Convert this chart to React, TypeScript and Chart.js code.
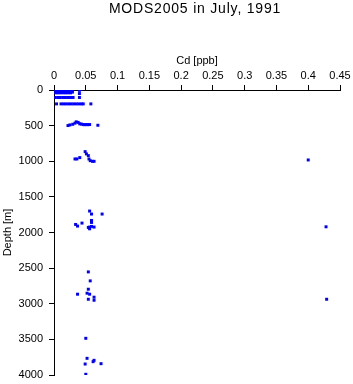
import React, { useEffect, useRef } from "react";
import { Chart, registerables } from "chart.js";

Chart.register(...registerables);

const titleText = "MODS2005 in July, 1991";
const xTitle = "Cd [ppb]";
const yTitle = "Depth [m]";

// Cd values (ppb) and matching depths (m), grouped by station cast level
const surfaceCd = [
  0.002, 0.006, 0.010, 0.014, 0.018, 0.022, 0.026, 0.029, 0.040,
  0.002, 0.006, 0.010, 0.014, 0.018, 0.022, 0.026, 0.029,
  0.002, 0.006, 0.010, 0.014, 0.018, 0.022, 0.026,
  0.002, 0.006, 0.010, 0.014, 0.018, 0.022, 0.026, 0.029,
  0.002, 0.006, 0.010, 0.014, 0.018, 0.022, 0.026,
  0.040,
  0.002, 0.006, 0.010, 0.014, 0.018, 0.022, 0.026, 0.030, 0.040,
  0.004, 0.011, 0.015, 0.019, 0.023, 0.027, 0.031, 0.035, 0.039, 0.043, 0.046, 0.058,
];
const surfaceDepth = [
  0, 0, 0, 0, 0, 0, 0, 0, 5,
  10, 10, 10, 10, 10, 10, 10, 10,
  20, 20, 20, 20, 20, 20, 20,
  30, 30, 30, 30, 30, 30, 30, 30,
  40, 40, 40, 40, 40, 40, 40,
  50,
  105, 105, 105, 105, 105, 105, 105, 105, 105,
  195, 195, 195, 195, 195, 195, 195, 195, 195, 195, 195, 195,
];

const midCd = [
  0.022, 0.025, 0.0295, 0.033, 0.035, 0.038, 0.0405, 0.043, 0.046, 0.048, 0.051, 0.053, 0.056, 0.069,
  0.033, 0.036, 0.0405, 0.049, 0.051, 0.054, 0.055, 0.057, 0.0605, 0.063, 0.400,
];
const midDepth = [
  499, 490, 481, 465, 447, 455, 475, 478, 485, 487, 485, 487, 485, 495,
  968, 968, 949, 865, 897, 921, 968, 992, 1001, 1001, 982,
];

const deepCd = [
  0.056, 0.059, 0.0757, 0.059, 0.059, 0.044, 0.034, 0.037, 0.056, 0.054, 0.059, 0.063, 0.056, 0.428,
  0.054, 0.057, 0.054, 0.037, 0.052, 0.056, 0.063, 0.054, 0.063, 0.429,
  0.050, 0.052, 0.063, 0.0615, 0.049, 0.074, 0.050,
];
const deepDepth = [
  1699, 1741, 1741, 1831, 1859, 1868, 1887, 1910, 1924, 1929, 1915, 1924, 1948, 1920,
  2553, 2679, 2796, 2866, 2852, 2866, 2908, 2937, 2951, 2937,
  3485, 3766, 3794, 3813, 3846, 3841, 3990,
];

const xTicksStep = 0.05;
const xMax = 0.45;
const yTicksStep = 500;
const yMax = 4000;

const FONT = "'Liberation Sans', Arial, Helvetica, sans-serif";

export default function App() {
  const ref = useRef<HTMLCanvasElement | null>(null);

  useEffect(() => {
    const canvas = ref.current;
    if (!canvas) return;
    const cd = [...surfaceCd, ...midCd, ...deepCd];
    const depth = [...surfaceDepth, ...midDepth, ...deepDepth];
    const points = cd.map((c, i) => ({ x: c, y: depth[i] }));

    const titlePlugin = {
      id: "customTitle",
      afterDraw(chart: any) {
        const { ctx, chartArea } = chart;
        ctx.save();
        ctx.font = `14px ${FONT}`;
        try {
          (ctx as any).letterSpacing = "0.8px";
        } catch (e) {}
        ctx.fillStyle = "#000";
        ctx.textAlign = "center";
        ctx.textBaseline = "middle";
        ctx.fillText(titleText, (chartArea.left + chartArea.right) / 2 - 2, 9);
        ctx.restore();
      },
    };

    const chart = new Chart(canvas, {
      type: "scatter",
      data: {
        datasets: [
          {
            data: points,
            backgroundColor: "#0000ff",
            borderColor: "#0000ff",
            borderWidth: 0,
            pointStyle: "rect",
            pointRadius: 2.1,
            pointHoverRadius: 2.1,
          },
        ],
      },
      options: {
        responsive: false,
        animation: false,
        devicePixelRatio: 1,
        layout: { padding: { left: 0, top: 0, right: 13, bottom: 9 } },
        plugins: {
          legend: { display: false },
          title: { display: false },
          tooltip: { enabled: false },
        },
        scales: {
          x: {
            type: "linear",
            position: "top",
            min: 0,
            max: xMax,
            ticks: {
              stepSize: xTicksStep,
              color: "#000",
              font: { family: FONT, size: 11 },
              padding: 2,
              maxRotation: 0,
              autoSkip: false,
              callback: (v: any) => String(Number(Number(v).toFixed(2))),
            },
            grid: {
              drawOnChartArea: false,
              drawTicks: true,
              tickLength: 5,
              color: "#000",
            },
            border: { display: true, color: "#000", width: 1 },
            title: {
              display: true,
              text: xTitle,
              color: "#000",
              font: { family: FONT, size: 11 },
              padding: { top: 54, bottom: 0 },
            },
            afterFit: (s: any) => {
              s.height = 90;
              s.paddingLeft = 0;
              s.paddingRight = 0;
              s.paddingTop = 0;
              s.paddingBottom = 0;
            },
          },
          y: {
            type: "linear",
            position: "left",
            reverse: true,
            min: 0,
            max: yMax,
            ticks: {
              stepSize: yTicksStep,
              color: "#000",
              font: { family: FONT, size: 11 },
              padding: 6,
              autoSkip: false,
              callback: (v: any) => String(Math.round(Number(v))),
            },
            grid: {
              drawOnChartArea: false,
              drawTicks: true,
              tickLength: 5,
              color: "#000",
            },
            border: { display: true, color: "#000", width: 1 },
            title: {
              display: true,
              text: yTitle,
              color: "#000",
              font: { family: FONT, size: 11 },
              padding: { top: 1, bottom: 0 },
            },
            afterFit: (s: any) => {
              s.width = 54;
              s.paddingLeft = 0;
              s.paddingRight = 0;
              s.paddingTop = 0;
              s.paddingBottom = 0;
            },
          },
        },
      },
      plugins: [titlePlugin],
    });
    return () => chart.destroy();
  }, []);

  return (
    <div style={{ position: "absolute", left: 0, top: 0, width: 353, height: 384, background: "#fff" }}>
      <canvas ref={ref} width={353} height={384} style={{ display: "block" }} />
    </div>
  );
}
